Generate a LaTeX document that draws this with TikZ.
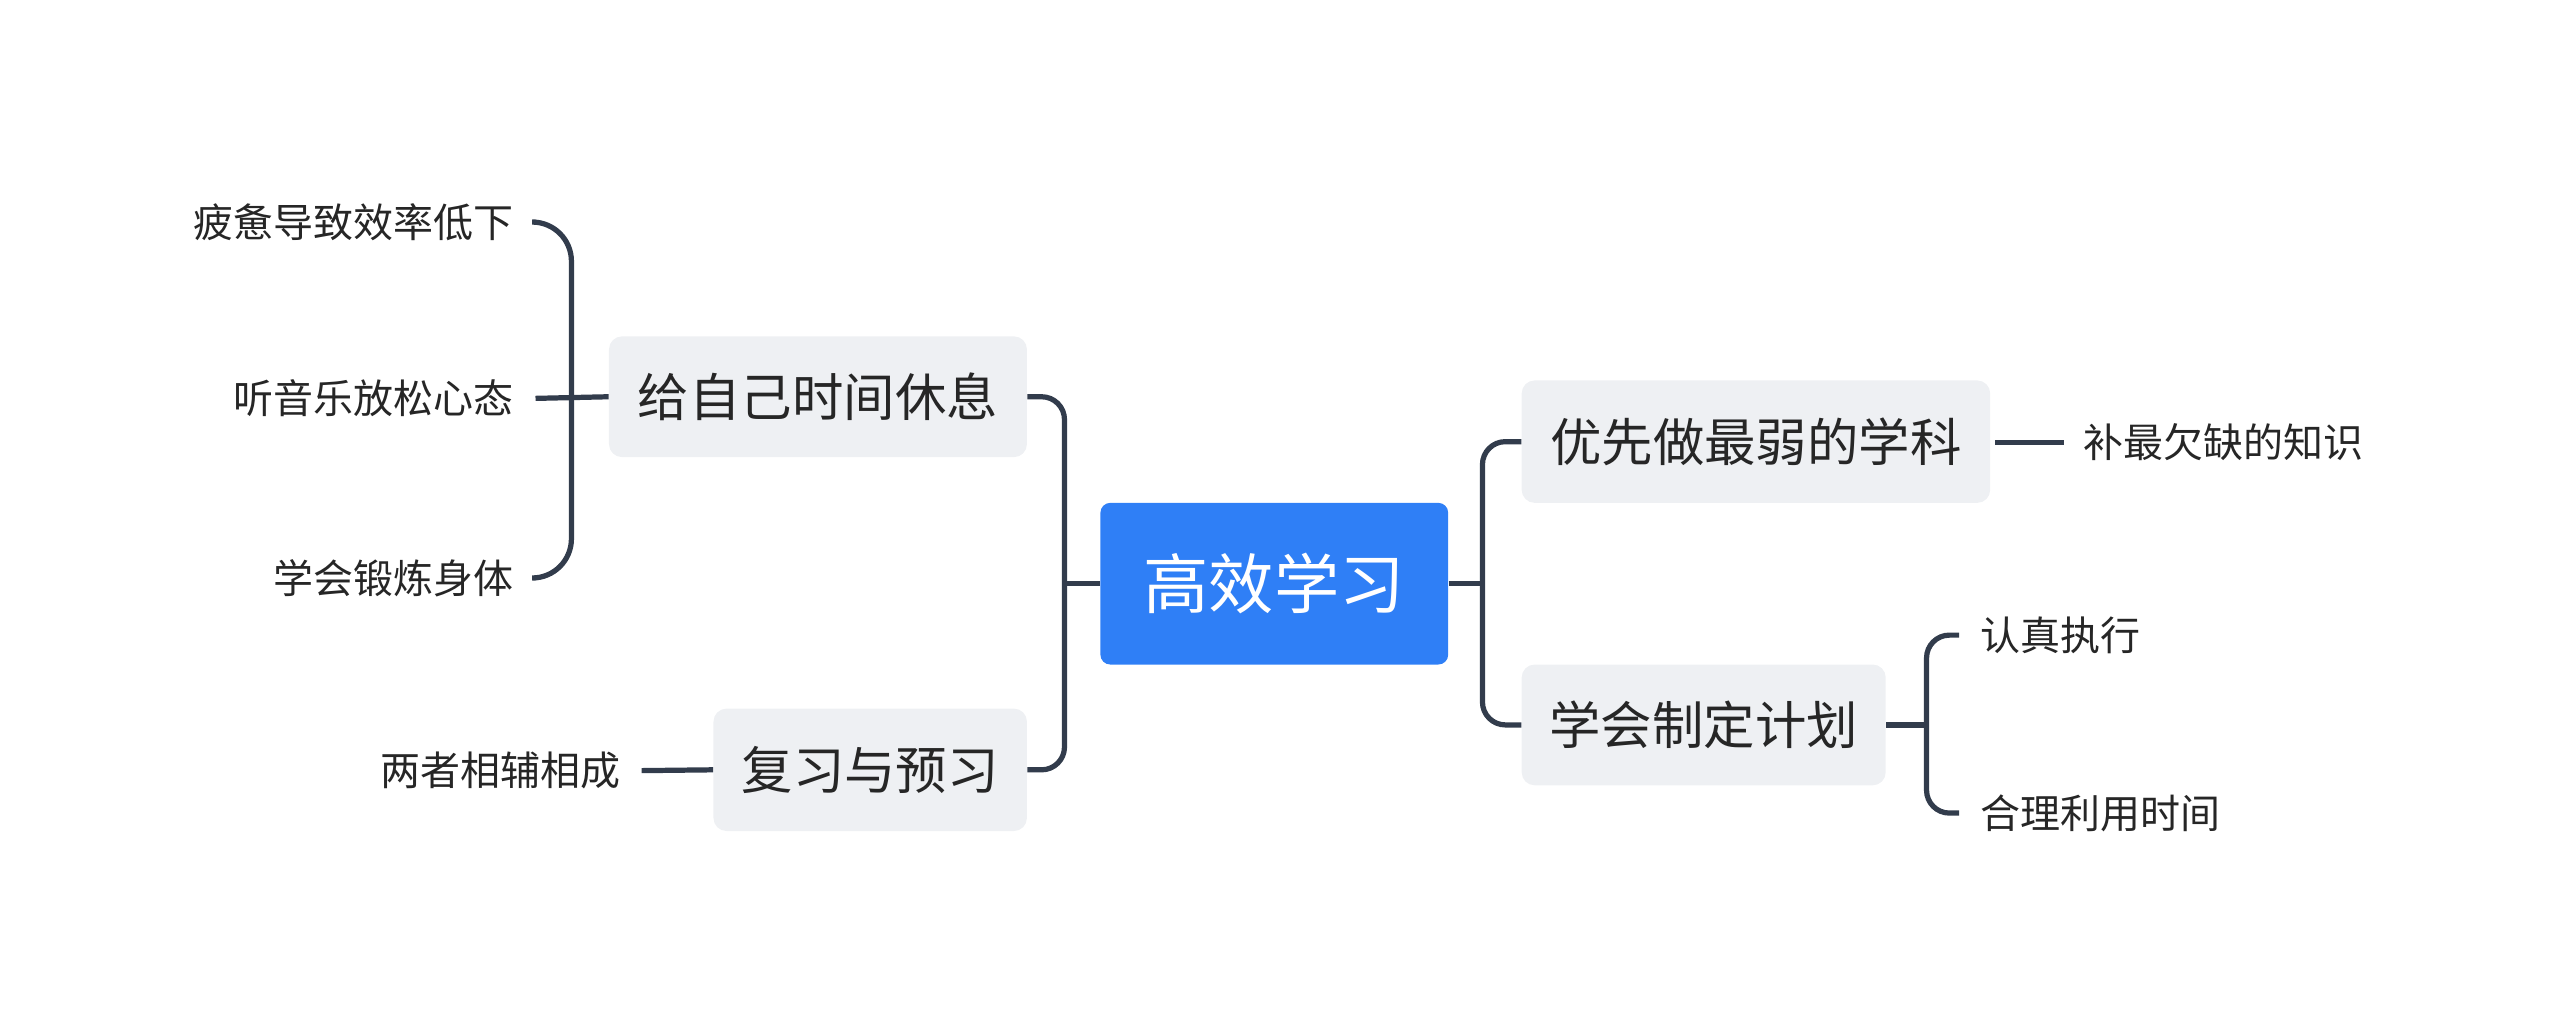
\documentclass[tikz,border=0pt]{standalone}
\usepackage{fontspec}
\setmainfont{Noto Sans CJK SC}
\begin{document}
\begin{tikzpicture}[x=1pt,y=-1pt,
  conn/.style={draw=lineC,line width=3.2pt,rounded corners=14pt},
  root/.style={fill=rootC,rounded corners=6pt,text=white,font=\fontsize{40}{42}\selectfont,inner sep=0pt},
  branch/.style={fill=boxC,rounded corners=8pt,text=black!85,font=\fontsize{31.5}{33}\selectfont,inner sep=0pt},
  leaf/.style={text=black!85,font=\fontsize{24.5}{26}\selectfont,inner sep=0pt}]
\definecolor{lineC}{HTML}{323C4C}
\definecolor{rootC}{HTML}{2F7FF6}
\definecolor{boxC}{HTML}{EEF0F3}
\useasboundingbox (0,0) rectangle (1568,633);
\node[root,minimum width=213pt,minimum height=99pt] (c) at (780.5,357.5) {高效学习};
\node[branch,minimum width=256pt,minimum height=74pt] (b1) at (501,243) {给自己时间休息};
\node[branch,minimum width=192pt,minimum height=75pt] (b2) at (533,471.5) {复习与预习};
\node[branch,minimum width=287pt,minimum height=75pt] (b3) at (1075.5,270.5) {优先做最弱的学科};
\node[branch,minimum width=223pt,minimum height=74pt] (b4) at (1043.5,444) {学会制定计划};
\node[leaf,anchor=east] (l1) at (315,136) {疲惫导致效率低下};
\node[leaf,anchor=east] (l2) at (315,244) {听音乐放松心态};
\node[leaf,anchor=east] (l3) at (315,354) {学会锻炼身体};
\node[leaf,anchor=east] (l4) at (380,472) {两者相辅相成};
\node[leaf,anchor=west] (r1) at (1276,271) {补最欠缺的知识};
\node[leaf,anchor=west] (r2) at (1213,389) {认真执行};
\node[leaf,anchor=west] (r3) at (1213,498) {合理利用时间};
% root connectors
\draw[conn] (c.west) -- (652,357.5);
\draw[conn] (b1.east) -- (652,243) -- (652,471.5) -- (b2.east);
\draw[conn] (c.east) -- (908,357.5);
\draw[conn] (b3.west) -- (908,270.5) -- (908,444) -- (b4.west);
% left bracket
\draw[conn] (b1.west) -- (328,244);
\draw[conn,rounded corners=24pt] (328,136) -- (350,136) -- (350,354) -- (328,354);
\draw[conn] (393,472) -- (b2.west);
% right
\draw[conn] (1222,271) -- (1264,271);
\draw[conn] (b4.east) -- (1180,444);
\draw[conn] (1200,389) -- (1180,389) -- (1180,498) -- (1200,498);
\end{tikzpicture}
\end{document}
